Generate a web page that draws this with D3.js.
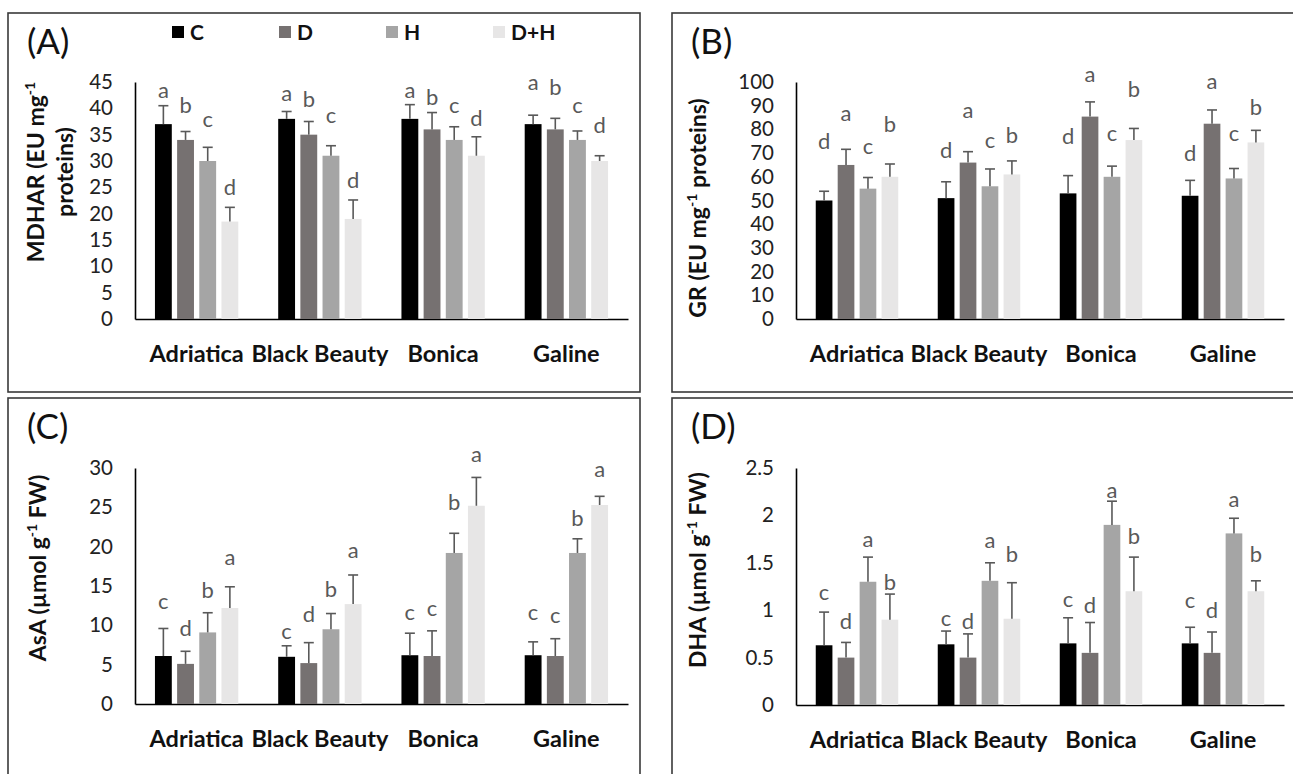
<!DOCTYPE html>
<html><head><meta charset="utf-8">
<script src="https://cdn.jsdelivr.net/npm/d3@7"></script>
<style>body{margin:0;background:#fff} svg{display:block}</style>
</head><body>
<svg id="chart" width="1293" height="774"></svg>
<script>
// ---------------- DATA ----------------
const categories = ["Adriatica", "Black Beauty", "Bonica", "Galine"];
const treatments = ["C", "D", "H", "D+H"];

// (A) MDHAR (EU mg-1 proteins) — rows = categories, cols = treatments
const mdharMeans = [[37, 34, 30, 18.5], [38, 35, 31, 19], [38, 36, 34, 31], [37, 36, 34, 30]];
const mdharErr   = [[3.5, 1.6, 2.6, 2.7], [1.4, 2.5, 1.9, 3.6], [2.7, 3.2, 2.5, 3.6], [1.7, 2.1, 1.7, 1.0]];
const mdharLetters = [["a","b","c","d"], ["a","b","c","d"], ["a","b","c","d"], ["a","b","c","d"]];
const mdharLetterAt = [[43.4, 40.6, 38.0, 25.1], [42.8, 41.8, 38.6, 26.4], [43.4, 42.1, 40.6, 38.2], [45.0, 44.0, 40.6, 36.7]];
const mdharTicks = [0, 5, 10, 15, 20, 25, 30, 35, 40, 45];

// (B) GR (EU mg-1 proteins)
const grMeans = [[50, 65, 55, 60], [51, 66, 56, 61], [53, 85.4, 60, 75.5], [52, 82.4, 59.3, 74.5]];
const grErr   = [[3.9, 6.6, 4.7, 5.4], [6.9, 4.6, 7.3, 5.7], [7.5, 6.2, 4.5, 4.9], [6.5, 5.8, 4.2, 5.1]];
const grLetters = [["d","a","c","b"], ["d","a","c","b"], ["d","a","c","b"], ["d","a","c","b"]];
const grLetterAt = [[74.9, 87.0, 73.0, 82.0], [71.1, 88.1, 75.3, 77.7], [77.0, 103.3, 78.4, 96.9], [69.9, 100.4, 78.4, 89.4]];
const grTicks = [0, 10, 20, 30, 40, 50, 60, 70, 80, 90, 100];

// (C) AsA (µmol g-1 FW)
const asaMeans = [[6.1, 5.1, 9.1, 12.2], [6.0, 5.2, 9.5, 12.7], [6.2, 6.1, 19.2, 25.2], [6.2, 6.1, 19.2, 25.3]];
const asaErr   = [[3.5, 1.6, 2.5, 2.7], [1.4, 2.6, 2.0, 3.7], [2.8, 3.2, 2.5, 3.6], [1.7, 2.2, 1.8, 1.1]];
const asaLetters = [["c","d","b","a"], ["c","d","b","a"], ["c","c","b","a"], ["c","c","b","a"]];
const asaLetterAt = [[13.05, 9.66, 14.4, 18.7], [9.24, 11.4, 14.6, 19.6], [11.6, 12.2, 25.6, 31.7], [11.6, 11.3, 23.6, 29.8]];
const asaTicks = [0, 5, 10, 15, 20, 25, 30];

// (D) DHA (µmol g-1 FW)
const dhaMeans = [[0.63, 0.5, 1.3, 0.9], [0.64, 0.5, 1.31, 0.91], [0.65, 0.55, 1.9, 1.2], [0.65, 0.55, 1.81, 1.2]];
const dhaErr   = [[0.35, 0.16, 0.26, 0.27], [0.14, 0.25, 0.19, 0.38], [0.27, 0.32, 0.25, 0.36], [0.17, 0.22, 0.16, 0.11]];
const dhaLetters = [["c","d","a","b"], ["c","d","a","b"], ["c","d","a","b"], ["c","d","a","b"]];
const dhaLetterAt = [[1.19, 0.88, 1.75, 1.29], [0.915, 0.88, 1.74, 1.59], [1.11, 1.056, 2.27, 1.78], [1.10, 1.0, 2.17, 1.59]];
const dhaTicks = [0, 0.5, 1, 1.5, 2, 2.5];

// ---------------- STYLE ----------------
const colors = {"C": "#000000", "D": "#767171", "H": "#A5A5A5", "D+H": "#E7E6E6"};
const FONT = "Lato, 'Open Sans', sans-serif";

const svg = d3.select("#chart");
svg.append("rect").attr("width", 1293).attr("height", 774).attr("fill", "#fff");

const panels = [
  { label: "(A)", frame: [8, 13, 640, 392], x: [135, 628], y: [319, 82], max: 45,
    means: mdharMeans, err: mdharErr, letters: mdharLetters, letterAt: mdharLetterAt, ticks: mdharTicks,
    title: [["MDHAR (EU mg", "-1", ""], ["proteins)", "", ""]], titleX: [44, 73], titleY: 172, legend: true },
  { label: "(B)", frame: [672, 13, 1310, 392], x: [796, 1284], y: [319, 82], max: 100,
    means: grMeans, err: grErr, letters: grLetters, letterAt: grLetterAt, ticks: grTicks,
    title: [["GR (EU mg", "-1", " proteins)"]], titleX: [706], titleY: 208 },
  { label: "(C)", frame: [8, 398, 640, 800], x: [135, 628], y: [704, 468], max: 30,
    means: asaMeans, err: asaErr, letters: asaLetters, letterAt: asaLetterAt, ticks: asaTicks,
    title: [["AsA (µmol g", "-1", " FW)"]], titleX: [46], titleY: 568 },
  { label: "(D)", frame: [672, 398, 1310, 800], x: [796, 1284], y: [705, 468], max: 2.5,
    means: dhaMeans, err: dhaErr, letters: dhaLetters, letterAt: dhaLetterAt, ticks: dhaTicks,
    title: [["DHA (µmol g", "-1", " FW)"]], titleX: [706], titleY: 570 }
];

panels.forEach(p => {
  const g = svg.append("g");
  const [fx0, fy0, fx1, fy1] = p.frame;
  g.append("rect").attr("x", fx0).attr("y", fy0).attr("width", fx1 - fx0).attr("height", fy1 - fy0)
    .attr("fill", "none").attr("stroke", "#3a3a3a").attr("stroke-width", 1.6);

  const x0 = d3.scaleBand().domain(categories).range(p.x).padding(0);
  const x1 = d3.scaleBand().domain(treatments).range([0, x0.bandwidth()]).paddingInner(0.24).paddingOuter(0.9);
  const y = d3.scaleLinear().domain([0, p.max]).range(p.y);

  // y axis
  const ya = g.append("g").attr("transform", `translate(${p.x[0]},0)`)
    .call(d3.axisLeft(y).tickValues(p.ticks).tickSize(0).tickSizeOuter(0).tickPadding(22).tickFormat(d3.format("~g")));
  ya.select(".domain").attr("stroke", "#000").attr("stroke-width", 1.6);
  ya.selectAll("text").attr("font-family", FONT).attr("font-size", 20.5).attr("fill", "#222");

  // x axis (baseline + category labels)
  const xa = g.append("g").attr("transform", `translate(0,${p.y[0]})`)
    .call(d3.axisBottom(x0).tickSize(0).tickSizeOuter(0).tickPadding(26));
  xa.select(".domain").attr("stroke", "#000").attr("stroke-width", 1.6);
  xa.selectAll("text").attr("font-family", FONT).attr("font-size", 23.5).attr("font-weight", "bold").attr("fill", "#111");

  // bars, error bars, letters
  categories.forEach((cat, i) => {
    treatments.forEach((tr, j) => {
      const bx = x0(cat) + x1(tr);
      const bw = x1.bandwidth();
      const cx = bx + bw / 2;
      const m = p.means[i][j], e = p.err[i][j];
      g.append("rect").attr("x", bx).attr("y", y(m)).attr("width", bw).attr("height", y(0) - y(m))
        .attr("fill", colors[tr]);
      g.append("line").attr("x1", cx).attr("x2", cx).attr("y1", y(m)).attr("y2", y(m + e))
        .attr("stroke", "#595959").attr("stroke-width", 1.6);
      g.append("line").attr("x1", cx - 5).attr("x2", cx + 5).attr("y1", y(m + e)).attr("y2", y(m + e))
        .attr("stroke", "#595959").attr("stroke-width", 1.6);
      g.append("text").attr("x", cx).attr("y", y(p.letterAt[i][j])).attr("dy", "0.35em")
        .attr("text-anchor", "middle").attr("font-family", FONT).attr("font-size", 22)
        .attr("fill", "#595959").text(p.letters[i][j]);
    });
  });

  // panel label
  g.append("text").attr("x", fx0 + 19).attr("y", fy0 + 41).attr("font-family", FONT)
    .attr("font-size", 35).attr("fill", "#111").text(p.label);

  // y title
  p.title.forEach((parts, k) => {
    const t = g.append("text").attr("transform", `translate(${p.titleX[k]},${p.titleY}) rotate(-90)`)
      .attr("text-anchor", "middle").attr("font-family", FONT).attr("font-size", 23)
      .attr("font-weight", "bold").attr("fill", "#111");
    t.append("tspan").text(parts[0]);
    if (parts[1]) t.append("tspan").attr("dy", -9).attr("font-size", 14).text(parts[1]);
    if (parts[2]) t.append("tspan").attr("dy", 9).text(parts[2]);
  });

  // legend
  if (p.legend) {
    const lx = d3.scaleBand().domain(treatments).range([172, 172 + 4 * 107]);
    treatments.forEach(tr => {
      g.append("rect").attr("x", lx(tr)).attr("y", 26).attr("width", 12).attr("height", 12).attr("fill", colors[tr]);
      g.append("text").attr("x", lx(tr) + 18).attr("y", 32).attr("dy", "0.36em").attr("font-family", FONT)
        .attr("font-size", 21).attr("font-weight", "bold").attr("fill", "#111").text(tr);
    });
  }
});
</script>
</body></html>
